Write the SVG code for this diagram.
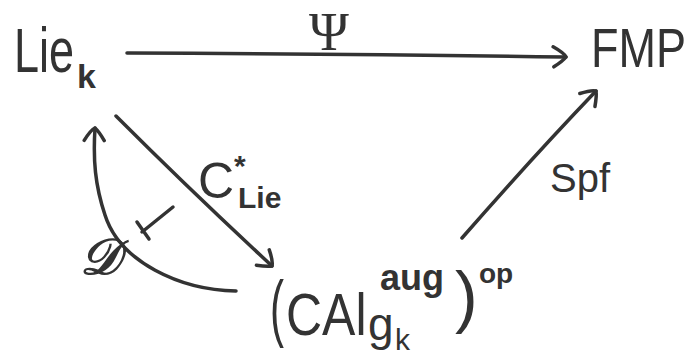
<svg xmlns="http://www.w3.org/2000/svg" width="689" height="360" viewBox="0 0 689 360">
<defs>
<style>
.t{font-family:"Liberation Sans","DejaVu Sans",sans-serif;fill:#333}
.s{font-family:"Liberation Serif","DejaVu Serif",serif;fill:#333}
.ln{fill:none;stroke:#333;stroke-width:3.5;stroke-linecap:round;stroke-linejoin:round}
</style>
<marker id="ah" viewBox="-16 -12 20 24" markerWidth="20" markerHeight="24" refX="0" refY="0" orient="auto" markerUnits="userSpaceOnUse">
<path d="M-13,-10 Q-2,-4 0,0 Q-3,4 -12,10" fill="none" stroke="#333" stroke-width="3.5" stroke-linecap="round" stroke-linejoin="round"/>
</marker>
</defs>
<rect width="689" height="360" fill="#fff"/>
<g id="node-lie">
<text class="t" transform="translate(14,72) scale(1,1.4)" font-size="45">Lie</text>
<text class="t" x="77" y="88" font-size="34" font-weight="bold">k</text>
</g>
<g id="node-fmp">
<text class="t" transform="translate(591,67) scale(1,1.22)" font-size="45">FMP</text>
</g>
<g id="node-calg">
<text class="t" transform="translate(270,333) scale(1,1.75)" font-size="42">(</text>
<text class="t" transform="translate(286,335) scale(1,1.2)" font-size="50">CAl</text>
<text class="t" x="368" y="340" font-size="46">g</text>
<text class="t" x="395" y="350" font-size="30">k</text>
<text class="t" x="380" y="290" font-size="36" font-weight="bold" textLength="64" lengthAdjust="spacingAndGlyphs">aug</text>
<text class="t" x="455" y="320" font-size="68">)</text>
<text class="t" x="479" y="283" font-size="28" font-weight="bold">op</text>
</g>
<g id="connectors">
<g id="edge-psi">
<path class="ln" d="M127,53 Q350,54 566,57" marker-end="url(#ah)"/>
<text class="s" x="329" y="50" font-size="54" text-anchor="middle">Ψ</text>
</g>
<g id="edge-spf">
<path class="ln" d="M462,238 Q530,160 596,91" marker-end="url(#ah)"/>
<text class="t" x="550" y="192" font-size="40">Spf</text>
</g>
<g id="edge-cstar">
<path class="ln" d="M116,116 Q190,190 272,266" marker-end="url(#ah)"/>
<text class="t" x="198" y="198" font-size="50">C</text>
<text class="t" x="234" y="176" font-size="30" font-weight="bold">*</text>
<text class="t" x="238" y="208" font-size="30" font-weight="bold">Lie</text>
</g>
<g id="edge-d">
<path class="ln" d="M236,291 C180,290 120,262 105,215 C95,185 93,160 95,128" marker-end="url(#ah)"/>
<text class="s" x="80" y="274" font-size="50" font-style="italic" stroke="#333" stroke-width="1.5">𝒟</text>
</g>
<g id="mapsto">
<path class="ln" d="M173,207 L142,232 M137,222 L149,239"/>
</g>
</g>
</svg>
